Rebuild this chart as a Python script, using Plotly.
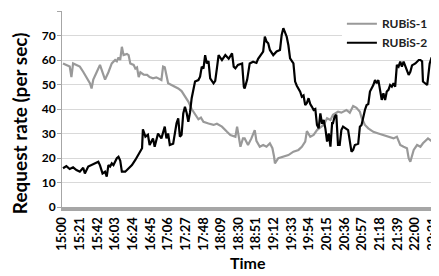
import plotly.graph_objects as go

# minutes after 15:00
rubis1_min = [0, 4, 8, 10, 12, 16, 20, 24, 28, 32, 34, 36, 40, 44, 46, 50, 54, 58, 62, 64,
              66, 68, 70, 72, 76, 78, 80, 84, 86, 88, 90, 92, 96, 100, 103, 107, 111, 117, 119, 121,
              125, 131, 137, 141, 145, 149, 153, 157, 161, 164, 167, 173, 179, 183, 189, 195, 199, 205, 207, 211,
              214, 216, 220, 224, 228, 230, 234, 238, 242, 246, 249, 251, 252, 256, 262, 268, 274, 280, 284, 288,
              290, 294, 298, 302, 306, 310, 314, 318, 321, 327, 331, 337, 341, 345, 349, 353, 355, 359, 363, 369,
              375, 381, 387, 393, 397, 401, 405, 409, 411, 413, 417, 421, 425, 428, 434, 438, 442, 446]
rubis1_val = [58.6, 58.0, 57.3, 53.0, 58.6, 58.0, 57.3, 55.2, 53.0, 50.5, 48.4, 52.0, 55.0, 58.0, 56.0, 52.0, 55.0, 58.6, 60.0, 59.5,
              61.0, 60.0, 65.4, 62.0, 62.5, 62.0, 58.6, 58.0, 56.5, 57.0, 53.0, 55.0, 54.0, 53.9, 53.0, 52.5, 52.9, 51.8, 57.3, 57.0,
              50.5, 49.6, 48.4, 47.3, 45.0, 43.0, 40.0, 37.6, 35.8, 36.5, 34.8, 34.1, 33.5, 34.0, 32.8, 30.7, 29.4, 28.7, 32.8, 24.6,
              28.0, 28.0, 25.3, 28.0, 31.4, 27.0, 24.6, 25.3, 24.6, 26.0, 24.0, 20.5, 17.8, 19.9, 20.5, 21.2, 22.6, 23.3, 24.6, 26.7,
              31.0, 28.7, 29.4, 31.4, 32.5, 33.5, 36.2, 35.5, 37.6, 38.9, 38.5, 39.6, 38.5, 41.2, 40.5, 38.9, 36.5, 33.5, 32.1, 30.7,
              30.0, 29.4, 28.7, 28.0, 28.7, 25.3, 24.6, 24.0, 19.9, 18.5, 23.3, 25.3, 24.6, 26.0, 28.0, 27.0, 26.7, 26.0]

rubis2_min = [0, 4, 8, 12, 16, 20, 24, 26, 30, 34, 38, 42, 44, 47, 50, 52, 54, 56, 58, 60,
              64, 66, 68, 70, 74, 78, 82, 86, 90, 94, 95, 96, 98, 101, 103, 107, 109, 113, 117, 121,
              123, 125, 127, 131, 135, 137, 139, 141, 143, 145, 147, 149, 151, 153, 155, 157, 161, 163, 165, 167,
              169, 171, 173, 175, 179, 181, 183, 185, 189, 193, 197, 201, 203, 205, 208, 213, 215, 216, 219, 222,
              226, 230, 232, 236, 238, 240, 242, 244, 246, 250, 254, 258, 260, 262, 264, 266, 268, 270, 274, 276,
              278, 282, 284, 286, 288, 290, 292, 294, 296, 298, 300, 302, 304, 306, 308, 310, 312, 314, 316, 318,
              320, 321, 323, 325, 327, 329, 331, 333, 339, 341, 343, 345, 347, 351, 353, 355, 357, 359, 361, 363,
              365, 367, 369, 371, 373, 375, 377, 379, 381, 383, 385, 387, 389, 391, 393, 395, 397, 399, 401, 403,
              405, 407, 409, 411, 413, 415, 419, 423, 425, 427, 428, 433, 434, 436, 438, 440, 442, 444, 446]
rubis2_val = [15.8, 16.7, 15.5, 16.2, 15.1, 14.4, 16.0, 13.7, 16.5, 17.1, 17.8, 18.5, 17.0, 13.7, 14.4, 12.4, 17.1, 16.5, 17.8, 17.1,
              19.9, 20.5, 19.0, 14.4, 14.4, 15.8, 17.1, 19.2, 21.9, 24.0, 31.7, 30.5, 28.7, 29.5, 25.3, 28.0, 24.6, 30.0, 28.0, 32.8,
              28.0, 30.0, 25.3, 25.8, 34.2, 36.2, 28.7, 29.5, 38.2, 40.9, 38.5, 34.8, 38.5, 44.4, 47.8, 51.2, 51.8, 53.2, 57.3, 56.5,
              62.0, 58.6, 59.5, 52.5, 50.5, 51.5, 56.6, 62.0, 60.0, 62.0, 60.5, 62.7, 57.3, 56.6, 58.0, 58.6, 49.1, 48.4, 52.0, 58.6,
              59.3, 58.8, 60.5, 62.7, 63.4, 69.5, 67.5, 66.8, 64.1, 62.0, 63.5, 64.1, 70.2, 73.0, 71.5, 69.5, 66.0, 60.7, 58.6, 51.2,
              49.5, 47.1, 45.0, 45.5, 41.6, 42.5, 44.4, 42.0, 40.9, 39.6, 40.0, 33.5, 32.1, 38.2, 34.0, 35.5, 32.0, 26.7, 30.0, 24.6,
              34.2, 34.2, 36.9, 37.6, 25.3, 25.3, 31.4, 32.8, 31.4, 27.0, 22.6, 23.3, 25.3, 25.8, 32.8, 33.5, 36.9, 39.6, 41.6, 42.0,
              47.1, 48.4, 49.8, 51.8, 50.5, 51.8, 47.5, 43.7, 46.4, 43.7, 47.1, 47.8, 49.8, 49.1, 50.5, 49.1, 58.0, 57.3, 59.3, 57.3,
              59.3, 57.3, 55.9, 53.9, 55.2, 57.8, 58.6, 60.0, 60.0, 59.5, 51.2, 49.8, 52.5, 58.6, 60.7, 60.0, 58.0, 55.5, 51.8]

tick_minutes = [0, 21, 42, 63, 84, 105, 126, 147, 168, 189, 210, 231, 252, 273, 294, 315, 336, 357, 378, 399, 420, 441]
tick_labels = ["15:00", "15:21", "15:42", "16:03", "16:24", "16:45", "17:06", "17:27", "17:48", "18:09", "18:30",
               "18:51", "19:12", "19:33", "19:54", "20:15", "20:36", "20:57", "21:18", "21:39", "22:00", "22:21"]

y_title = "Request rate (per sec)"
x_title = "Time"

FONT = "Lato"

fig = go.Figure()
fig.add_trace(go.Scatter(x=rubis1_min, y=rubis1_val, mode="lines", name="RUBiS-1",
                         line=dict(color="#999999", width=2.2)))
fig.add_trace(go.Scatter(x=rubis2_min, y=rubis2_val, mode="lines", name="RUBiS-2",
                         line=dict(color="#000000", width=2.2)))

fig.update_layout(
    width=439, height=276,
    margin=dict(l=54, r=0, t=3, b=77, autoexpand=False),
    paper_bgcolor="white", plot_bgcolor="white",
    font=dict(family=FONT, size=11, color="black"),
    showlegend=True,
    legend=dict(x=0.727, y=1.009, xanchor="left", yanchor="top",
                bgcolor="white", borderwidth=0,
                font=dict(family=FONT, size=12, color="#222222", weight="bold"),
                itemwidth=30, tracegroupgap=0),
    xaxis=dict(range=[-1.19, 456.6], tickmode="array", tickvals=tick_minutes, ticktext=tick_labels,
               tickangle=-90, tickfont=dict(family=FONT, size=13, weight="bold"),
               ticklabelshift=-1, ticklabelstandoff=1,
               showgrid=False, zeroline=False, showline=True, linecolor="#a6a6a6", linewidth=4,
               ticks="", automargin=False),
    yaxis=dict(range=[0, 80], tickvals=[0, 10, 20, 30, 40, 50, 60, 70, 80],
               tickfont=dict(family=FONT, size=12, weight="bold"),
               showgrid=True, gridcolor="#d9d9d9", gridwidth=1, zeroline=False,
               showline=True, linecolor="#a6a6a6", linewidth=1,
               ticks="outside", ticklen=4, tickcolor="#a6a6a6", automargin=False,
               ticklabelstandoff=-1),
    annotations=[
        dict(text=y_title, xref="paper", yref="paper", x=-0.110, y=0.426, textangle=-90,
             xanchor="center", yanchor="middle", showarrow=False,
             font=dict(family=FONT, size=19, weight="bold", color="black")),
        dict(text=x_title, xref="paper", yref="paper", x=0.483, y=-0.281,
             xanchor="center", yanchor="middle", showarrow=False,
             font=dict(family=FONT, size=16, weight="bold", color="black")),
    ],
)

fig.write_html("out.html")
